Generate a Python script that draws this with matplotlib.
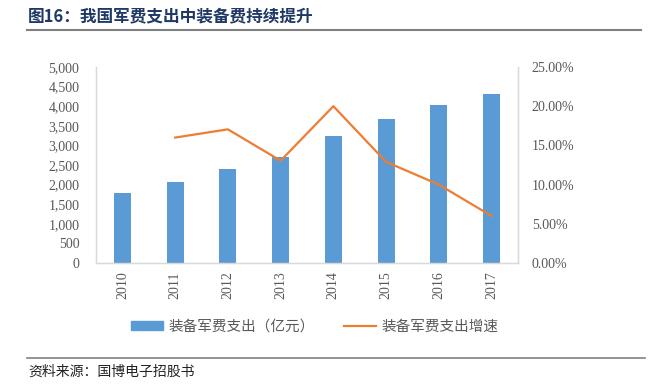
import numpy as np
import matplotlib.pyplot as plt
from matplotlib.lines import Line2D
from matplotlib.patches import Patch
from matplotlib.ticker import FuncFormatter

plt.rcParams['font.family'] = ['Liberation Serif', 'Noto Sans CJK SC', 'DejaVu Sans']

years = ['2010', '2011', '2012', '2013', '2014', '2015', '2016', '2017']
spend = [1775, 2066, 2398, 2712, 3240, 3666, 4031, 4303]
growth = [None, 16.0, 17.05, 13.05, 20.0, 12.9, 10.0, 6.0]

BLUE = '#5B9BD5'
ORANGE = '#ED7D31'
GRAY = '#595959'
CJK = ['Noto Sans CJK SC', 'DejaVu Sans']

fig = plt.figure(figsize=(6.49, 3.9), dpi=100)
ax = fig.add_axes([0.148, 0.3256, 0.650, 0.5026])
ax2 = ax.twinx()

x = np.arange(len(years))
ax.bar(x, spend, width=0.32, color=BLUE, zorder=2)
gx = [i for i, g in enumerate(growth) if g is not None]
gy = [g for g in growth if g is not None]
ax2.plot(gx, gy, color=ORANGE, lw=1.6, zorder=3)

ax.set_xlim(-0.5, len(years) - 0.5)
ax.set_ylim(0, 5000)
ax.set_yticks(np.arange(0, 5001, 500))
ax.yaxis.set_major_formatter(FuncFormatter(lambda v, p: f'{int(v):,}'))
ax2.set_ylim(0, 25)
ax2.set_yticks(np.arange(0, 25.1, 5))
ax2.yaxis.set_major_formatter(FuncFormatter(lambda v, p: f'{v:.2f}%'))

ax.set_xticks(x)
ax.set_xticklabels(years, rotation=90)

for a in (ax, ax2):
    a.spines['top'].set_visible(False)
    for s in ('left', 'right', 'bottom'):
        a.spines[s].set_color('#D9D9D9')
        a.spines[s].set_linewidth(0.9)
    a.tick_params(length=0, labelsize=10, colors=GRAY, pad=4)
ax.tick_params(axis='y', pad=12)
ax2.tick_params(axis='y', pad=10)
ax.tick_params(axis='x', pad=6)

handles = [Patch(color=BLUE), Line2D([0], [0], color=ORANGE, lw=1.6)]
labels = ['装备军费支出（亿元）', '装备军费支出增速']
fig.legend(handles, labels, loc='center', bbox_to_anchor=(0.485, 0.163),
           ncol=2, frameon=False, prop={'family': CJK, 'size': 10.5},
           labelcolor=GRAY, handlelength=2.2, handleheight=0.6,
           columnspacing=2.0, handletextpad=0.4)

fig.text(0.043, 0.958, '图16：我国军费支出中装备费持续提升', family=CJK,
         fontsize=12, fontweight='bold', color='#1F3864', va='center')
fig.add_artist(Line2D([0.042, 0.988], [0.923, 0.923], color='#808080', lw=1.5))
fig.add_artist(Line2D([0.042, 0.994], [0.083, 0.083], color='#808080', lw=1.2))
fig.text(0.043, 0.048, '资料来源：国博电子招股书', family=CJK,
         fontsize=10, color='#222222', va='center')

fig.savefig('out.png', dpi=100)
